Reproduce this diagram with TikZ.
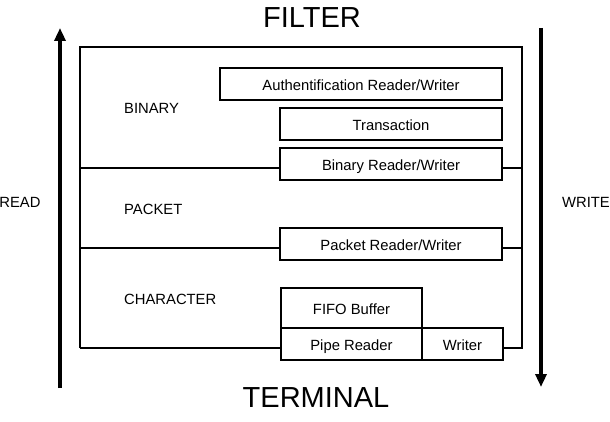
\documentclass[tikz,border=0pt]{standalone}
\usepackage{fontspec}
\setmainfont{Liberation Sans}
\usetikzlibrary{arrows.meta}
\begin{document}
\begin{tikzpicture}[x=1pt,y=-1pt,
  box/.style={draw,line width=1.6pt,inner sep=0pt,text height=12.4pt,text depth=0pt,font=\fontsize{14.8}{16}\selectfont},
  lbl/.style={inner sep=0pt,font=\fontsize{14.8}{16}\selectfont},
  big/.style={inner sep=0pt,font=\fontsize{29}{32}\selectfont},
  frame/.style={line width=1.6pt},
  bigarrow/.style={line width=3.6pt,-{Triangle[width=11pt,length=13pt]}}]
\useasboundingbox (0,0) rectangle (610,422);
% boxes
\node[box,minimum width=282pt,minimum height=32pt] (auth) at (361,84) {Authentification Reader/Writer};
\node[box,minimum width=222pt,minimum height=32pt] (trans) at (391,124) {Transaction};
\node[box,minimum width=222pt,minimum height=32pt] (bin) at (391,164) {Binary Reader/Writer};
\node[box,minimum width=222pt,minimum height=32pt] (pkt) at (391,244) {Packet Reader/Writer};
\node[box,minimum width=141pt,minimum height=40pt] (fifo) at (351.5,308) {FIFO Buffer};
\node[box,minimum width=141pt,minimum height=32pt] (pipe) at (351.5,344) {Pipe Reader};
\node[box,minimum width=81pt,minimum height=32pt] (wr) at (462.5,344) {Writer};
% labels
\node[lbl,anchor=west] (binary) at (124,108) {BINARY};
\node[lbl,anchor=west] (packet) at (124,209) {PACKET};
\node[lbl,anchor=west] (character) at (124,299) {CHARACTER};
\node[lbl] (read) at (20,202) {READ};
\node[lbl] (write) at (586,202) {WRITE};
\node[big] (filter) at (312,18) {FILTER};
\node[big] (terminal) at (316,398) {TERMINAL};
% frame
\coordinate (ftl) at (80,47);
\coordinate (ftr) at (522,47);
\coordinate (l1) at (80,168);
\coordinate (l2) at (80,248);
\coordinate (l3) at (80,348);
\coordinate (r1) at (522,168);
\coordinate (r2) at (522,248);
\coordinate (r3) at (522,348);
\draw[frame,line join=miter] (l3) -- (ftl) -- (ftr) -- (r3) -- (r3 -| wr.east);
\draw[frame] (l3) -- (l3 -| pipe.west);
\draw[frame] (l1) -- (l1 -| bin.west);
\draw[frame] (r1) -- (r1 -| bin.east);
\draw[frame] (l2) -- (l2 -| pkt.west);
\draw[frame] (r2) -- (r2 -| pkt.east);
% arrows
\coordinate (rb) at (60,388);
\coordinate (rt) at (60,28);
\coordinate (wt) at (541,28);
\coordinate (wb) at (541,387);
\draw[bigarrow] (rb) -- (rt);
\draw[bigarrow] (wt) -- (wb);
\end{tikzpicture}
\end{document}
